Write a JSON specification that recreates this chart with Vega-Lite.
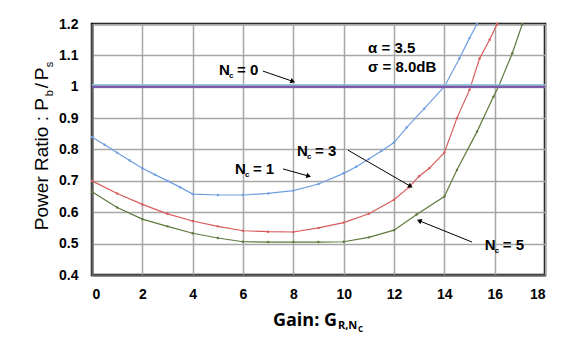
{
  "$schema": "https://vega.github.io/schema/vega-lite/v6.json",
  "width": 453,
  "height": 251,
  "autosize": "none",
  "padding": {"left": 92, "top": 24, "right": 16, "bottom": 65},
  "background": "white",
  "config": {
    "view": {"stroke": "#000000", "strokeWidth": 2.5},
    "axis": {
      "labelFont": "Liberation Sans",
      "labelFontWeight": "bold",
      "labelFontSize": 14,
      "labelColor": "#000000",
      "ticks": false,
      "gridColor": "#a6a6a6",
      "gridWidth": 1.5,
      "domainColor": "#606060",
      "domainWidth": 2,
      "title": null
    }
  },
  "datasets": {
    "curves": [
      {"g": 0, "r": 0.84, "s": "Nc1"}, {"g": 0.5, "r": 0.815, "s": "Nc1"}, {"g": 1, "r": 0.79, "s": "Nc1"}, {"g": 1.5, "r": 0.765, "s": "Nc1"}, {"g": 2, "r": 0.74, "s": "Nc1"}, {"g": 2.5, "r": 0.72, "s": "Nc1"}, {"g": 3, "r": 0.70, "s": "Nc1"}, {"g": 3.5, "r": 0.68, "s": "Nc1"}, {"g": 4, "r": 0.658, "s": "Nc1"}, {"g": 5, "r": 0.655, "s": "Nc1"}, {"g": 6, "r": 0.655, "s": "Nc1"}, {"g": 7, "r": 0.66, "s": "Nc1"}, {"g": 8, "r": 0.669, "s": "Nc1"}, {"g": 9, "r": 0.69, "s": "Nc1"}, {"g": 10, "r": 0.724, "s": "Nc1"}, {"g": 10.5, "r": 0.745, "s": "Nc1"}, {"g": 11, "r": 0.77, "s": "Nc1"}, {"g": 11.5, "r": 0.795, "s": "Nc1"}, {"g": 12, "r": 0.822, "s": "Nc1"}, {"g": 12.5, "r": 0.87, "s": "Nc1"}, {"g": 13.2, "r": 0.93, "s": "Nc1"}, {"g": 14, "r": 1.0, "s": "Nc1"}, {"g": 14.6, "r": 1.09, "s": "Nc1"}, {"g": 15, "r": 1.155, "s": "Nc1"}, {"g": 15.3, "r": 1.2, "s": "Nc1"},
      {"g": 0, "r": 0.70, "s": "Nc3"}, {"g": 1, "r": 0.66, "s": "Nc3"}, {"g": 2, "r": 0.625, "s": "Nc3"}, {"g": 3, "r": 0.595, "s": "Nc3"}, {"g": 4, "r": 0.572, "s": "Nc3"}, {"g": 5, "r": 0.555, "s": "Nc3"}, {"g": 6, "r": 0.541, "s": "Nc3"}, {"g": 7, "r": 0.538, "s": "Nc3"}, {"g": 8, "r": 0.537, "s": "Nc3"}, {"g": 9, "r": 0.55, "s": "Nc3"}, {"g": 10, "r": 0.567, "s": "Nc3"}, {"g": 11, "r": 0.595, "s": "Nc3"}, {"g": 12, "r": 0.64, "s": "Nc3"}, {"g": 12.6, "r": 0.68, "s": "Nc3"}, {"g": 13, "r": 0.715, "s": "Nc3"}, {"g": 13.4, "r": 0.74, "s": "Nc3"}, {"g": 14, "r": 0.79, "s": "Nc3"}, {"g": 14.5, "r": 0.9, "s": "Nc3"}, {"g": 15, "r": 0.99, "s": "Nc3"}, {"g": 15.4, "r": 1.09, "s": "Nc3"}, {"g": 15.8, "r": 1.15, "s": "Nc3"}, {"g": 16.1, "r": 1.2, "s": "Nc3"},
      {"g": 0, "r": 0.665, "s": "Nc5"}, {"g": 1, "r": 0.615, "s": "Nc5"}, {"g": 2, "r": 0.578, "s": "Nc5"}, {"g": 3, "r": 0.555, "s": "Nc5"}, {"g": 4, "r": 0.533, "s": "Nc5"}, {"g": 5, "r": 0.518, "s": "Nc5"}, {"g": 6, "r": 0.506, "s": "Nc5"}, {"g": 7, "r": 0.505, "s": "Nc5"}, {"g": 8, "r": 0.505, "s": "Nc5"}, {"g": 9, "r": 0.505, "s": "Nc5"}, {"g": 10, "r": 0.506, "s": "Nc5"}, {"g": 11, "r": 0.52, "s": "Nc5"}, {"g": 12, "r": 0.543, "s": "Nc5"}, {"g": 12.9, "r": 0.593, "s": "Nc5"}, {"g": 14, "r": 0.65, "s": "Nc5"}, {"g": 14.5, "r": 0.735, "s": "Nc5"}, {"g": 15.3, "r": 0.857, "s": "Nc5"}, {"g": 15.95, "r": 0.968, "s": "Nc5"}, {"g": 16.15, "r": 1.0, "s": "Nc5"}, {"g": 16.7, "r": 1.107, "s": "Nc5"}, {"g": 17.1, "r": 1.2, "s": "Nc5"}
    ],
    "nc0": [{"r": 1.0}],
    "labels": [
      {"g": 5.05, "r": 1.0375, "rest": "= 0"},
      {"g": 5.68, "r": 0.722, "rest": "= 1"},
      {"g": 8.145, "r": 0.779, "rest": "= 3"},
      {"g": 15.61, "r": 0.48, "rest": "= 5"}
    ],
    "params": [
      {"g": 10.97, "r": 1.1076, "t": "α = 3.5"},
      {"g": 10.97, "r": 1.047, "t": "σ = 8.0dB"}
    ],
    "arrows": [
      {"a": "n0", "g": 6.79, "r": 1.05, "g2": 7.95, "r2": 1.018},
      {"a": "n1", "g": 7.59, "r": 0.738, "g2": 8.58, "r2": 0.716},
      {"a": "n3", "g": 10.17, "r": 0.798, "g2": 12.63, "r2": 0.684},
      {"a": "n5", "g": 15.1, "r": 0.505, "g2": 13.03, "r2": 0.572}
    ],
    "ytitle": [{"g": -1.75, "r": 0.543}],
    "xtitle": [{"g": 7.19, "r": 0.2375}]
  },
  "encoding": {
    "x": {"field": "g", "type": "quantitative", "scale": {"domain": [0, 18], "nice": false, "zero": false},
      "axis": {"values": [0, 2, 4, 6, 8, 10, 12, 14, 16, 18], "labelPadding": 12}},
    "y": {"field": "r", "type": "quantitative", "scale": {"domain": [0.4, 1.2], "nice": false, "zero": false},
      "axis": {"values": [0.4, 0.5, 0.6, 0.7, 0.8, 0.9, 1.0, 1.1, 1.2], "format": "~g", "labelPadding": 14}}
  },
  "layer": [
    {
      "data": {"name": "curves"},
      "mark": {"type": "line", "strokeWidth": 1.2, "point": {"size": 6, "filled": true}},
      "encoding": {
        "color": {"field": "s", "type": "nominal", "legend": null,
          "scale": {"domain": ["Nc1", "Nc3", "Nc5"], "range": ["#6f9fe0", "#d95c5c", "#5f7a3c"]}}
      }
    },
    {
      "data": {"name": "nc0"},
      "mark": {"type": "rule", "color": "#8fd0e0", "strokeWidth": 1.5, "yOffset": -2},
      "encoding": {"x": null}
    },
    {
      "data": {"name": "nc0"},
      "mark": {"type": "rule", "color": "#7a5aa8", "strokeWidth": 2.5},
      "encoding": {"x": null}
    },
    {
      "data": {"name": "arrows"},
      "mark": {"type": "rule", "color": "#000000", "strokeWidth": 1},
      "encoding": {"x2": {"field": "g2"}, "y2": {"field": "r2"}}
    },
    {
      "data": {"name": "arrows"},
      "transform": [{"filter": "datum.a == 'n0'"}],
      "mark": {"type": "point", "shape": "triangle", "filled": true, "color": "#000000", "size": 30, "angle": 109, "opacity": 1},
      "encoding": {"x": {"field": "g2", "type": "quantitative"}, "y": {"field": "r2", "type": "quantitative"}}
    },
    {
      "data": {"name": "arrows"},
      "transform": [{"filter": "datum.a == 'n1'"}],
      "mark": {"type": "point", "shape": "triangle", "filled": true, "color": "#000000", "size": 30, "angle": 106, "opacity": 1},
      "encoding": {"x": {"field": "g2", "type": "quantitative"}, "y": {"field": "r2", "type": "quantitative"}}
    },
    {
      "data": {"name": "arrows"},
      "transform": [{"filter": "datum.a == 'n3'"}],
      "mark": {"type": "point", "shape": "triangle", "filled": true, "color": "#000000", "size": 30, "angle": 120, "opacity": 1},
      "encoding": {"x": {"field": "g2", "type": "quantitative"}, "y": {"field": "r2", "type": "quantitative"}}
    },
    {
      "data": {"name": "arrows"},
      "transform": [{"filter": "datum.a == 'n5'"}],
      "mark": {"type": "point", "shape": "triangle", "filled": true, "color": "#000000", "size": 30, "angle": 292, "opacity": 1},
      "encoding": {"x": {"field": "g2", "type": "quantitative"}, "y": {"field": "r2", "type": "quantitative"}}
    },
    {
      "data": {"name": "labels"},
      "mark": {"type": "text", "text": "N", "align": "left", "baseline": "alphabetic", "font": "Liberation Sans", "fontWeight": "bold", "fontSize": 15, "color": "#000000"}
    },
    {
      "data": {"name": "labels"},
      "mark": {"type": "text", "text": "c", "align": "left", "baseline": "alphabetic", "dx": 10, "dy": 3, "font": "Liberation Sans", "fontWeight": "bold", "fontSize": 8, "color": "#000000"}
    },
    {
      "data": {"name": "labels"},
      "mark": {"type": "text", "align": "left", "baseline": "alphabetic", "dx": 18, "font": "Liberation Sans", "fontWeight": "bold", "fontSize": 15, "color": "#000000"},
      "encoding": {"text": {"field": "rest"}}
    },
    {
      "data": {"name": "params"},
      "mark": {"type": "text", "align": "left", "baseline": "alphabetic", "font": "Liberation Sans", "fontWeight": "bold", "fontSize": 15, "color": "#000000"},
      "encoding": {"text": {"field": "t"}}
    },
    {
      "data": {"name": "ytitle"},
      "mark": {"type": "text", "text": "Power Ratio : P", "angle": 270, "align": "left", "baseline": "alphabetic", "font": "Liberation Sans", "fontSize": 19, "color": "#000000"}
    },
    {
      "data": {"name": "ytitle"},
      "mark": {"type": "text", "text": "b", "angle": 270, "align": "left", "baseline": "alphabetic", "dx": 134, "dy": 5, "font": "Liberation Sans", "fontSize": 11, "color": "#000000"}
    },
    {
      "data": {"name": "ytitle"},
      "mark": {"type": "text", "text": "/", "angle": 270, "align": "left", "baseline": "alphabetic", "dx": 142, "font": "Liberation Sans", "fontSize": 19, "color": "#000000"}
    },
    {
      "data": {"name": "ytitle"},
      "mark": {"type": "text", "text": "P", "angle": 270, "align": "left", "baseline": "alphabetic", "dx": 150, "font": "Liberation Sans", "fontSize": 19, "color": "#000000"}
    },
    {
      "data": {"name": "ytitle"},
      "mark": {"type": "text", "text": "s", "angle": 270, "align": "left", "baseline": "alphabetic", "dx": 163, "dy": 5, "font": "Liberation Sans", "fontSize": 11, "color": "#000000"}
    },
    {
      "data": {"name": "xtitle"},
      "mark": {"type": "text", "text": "Gain: G", "align": "left", "baseline": "alphabetic", "font": "Open Sans", "fontWeight": "bold", "fontSize": 18, "color": "#000000"}
    },
    {
      "data": {"name": "xtitle"},
      "mark": {"type": "text", "text": "R,N", "align": "left", "baseline": "alphabetic", "dx": 65, "dy": 3, "font": "Open Sans", "fontWeight": "bold", "fontSize": 11, "color": "#000000"}
    },
    {
      "data": {"name": "xtitle"},
      "mark": {"type": "text", "text": "C", "align": "left", "baseline": "alphabetic", "dx": 85, "dy": 6, "font": "Open Sans", "fontWeight": "bold", "fontSize": 8, "color": "#000000"}
    }
  ]
}
